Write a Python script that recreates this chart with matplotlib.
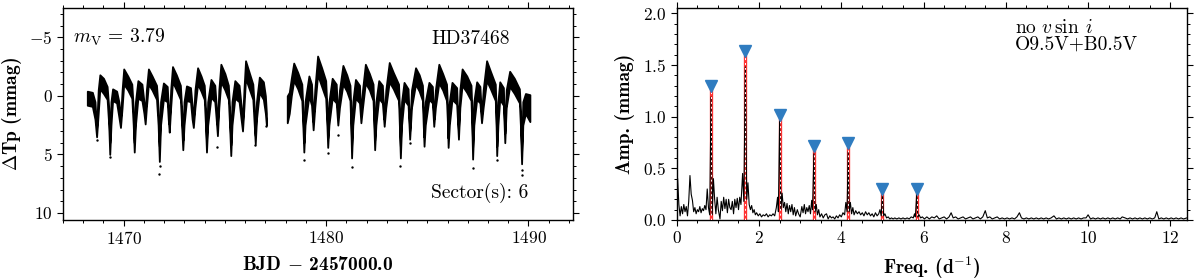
import numpy as np
import matplotlib
matplotlib.use("Agg")
import matplotlib.pyplot as plt
from matplotlib.ticker import MultipleLocator, FormatStrFormatter

plt.rcParams['font.family'] = 'cmr10'
plt.rcParams['mathtext.fontset'] = 'cm'
plt.rcParams['axes.formatter.use_mathtext'] = True
plt.rcParams['axes.unicode_minus'] = True

# light curve: (BJD-2457000, upper edge, lower edge) of the dense band
seg1 = [
    (1468.20, -0.4, 0.8), (1468.45, -0.3, 0.9), (1468.58, 0.5, 2.0), (1468.66, 2.8, 3.5),
    (1468.74, -0.5, 1.5), (1468.82, -1.8, -0.6), (1469.00, -1.5, -0.2), (1469.18, -0.8, 0.3),
    (1469.26, 1.0, 2.5), (1469.31, 4.0, 5.0), (1469.37, 0.5, 2.5), (1469.45, -0.6, 0.4),
    (1469.65, -0.4, 0.6), (1469.76, 0.5, 1.8), (1469.84, 2.0, 2.7), (1469.92, -0.5, 1.0),
    (1470.00, -2.3, -1.0), (1470.20, -1.7, -0.5), (1470.40, -1.0, 0.2), (1470.47, 1.0, 2.5),
    (1470.52, 4.0, 4.8), (1470.58, 0.5, 2.5), (1470.70, -1.3, 0.2), (1470.90, -1.0, 0.4),
    (1471.00, 0.5, 1.5), (1471.06, 1.8, 2.4), (1471.12, -0.5, 1.0), (1471.22, -2.3, -1.0),
    (1471.40, -1.7, -0.5), (1471.62, -0.9, 0.3), (1471.70, 1.0, 2.5), (1471.76, 4.3, 5.6),
    (1471.82, 0.5, 2.5), (1471.96, -1.1, 0.3), (1472.15, -0.8, 0.5), (1472.20, 0.8, 2.0),
    (1472.25, 2.4, 3.1), (1472.32, -0.5, 1.0), (1472.41, -2.5, -1.2), (1472.60, -1.8, -0.5),
    (1472.80, -0.9, 0.3), (1472.86, 1.0, 2.5), (1472.92, 3.8, 4.6), (1472.98, 0.5, 2.5),
    (1473.10, -0.85, 0.4), (1473.30, -0.7, 0.5), (1473.38, 0.8, 2.0), (1473.44, 2.2, 2.7),
    (1473.52, -0.5, 1.0), (1473.65, -2.4, -1.0), (1473.82, -1.7, -0.4), (1473.98, -0.9, 0.3),
    (1474.04, 1.0, 2.5), (1474.09, 4.0, 4.8), (1474.15, 0.5, 2.5), (1474.31, -1.4, 0.1),
    (1474.50, -0.9, 0.5), (1474.57, 0.8, 2.0), (1474.63, 2.6, 3.4), (1474.70, -0.5, 1.0),
    (1474.80, -2.7, -1.2), (1475.00, -1.9, -0.5), (1475.17, -0.9, 0.3), (1475.23, 1.0, 2.5),
    (1475.29, 4.2, 5.1), (1475.35, 0.5, 2.5), (1475.49, -1.3, 0.2), (1475.70, -0.9, 0.5),
    (1475.80, 0.8, 2.0), (1475.87, 2.3, 3.0), (1475.94, -0.5, 1.0), (1476.02, -3.0, -1.5),
    (1476.20, -2.0, -0.6), (1476.38, -1.0, 0.3), (1476.45, 1.0, 2.5), (1476.50, 3.4, 4.1),
    (1476.56, 0.5, 2.0), (1476.70, -1.6, -0.3), (1476.90, -1.2, 0.3), (1477.00, 0.0, 1.5),
    (1477.05, 1.5, 2.5),
]
seg2 = [
    (1478.08, 0.0, 2.3), (1478.18, -0.3, 1.5), (1478.28, -1.5, 0.0), (1478.40, -2.8, -1.3),
    (1478.60, -2.0, -0.6), (1478.80, -1.0, 0.4), (1478.85, 1.0, 2.5), (1478.90, 4.0, 4.8),
    (1478.96, 0.5, 2.5), (1479.15, -1.7, 0.0), (1479.28, -1.0, 0.8), (1479.36, 2.2, 2.9),
    (1479.44, -0.5, 1.0), (1479.58, -3.4, -1.8), (1479.78, -2.4, -0.8), (1479.98, -1.3, 0.2),
    (1480.04, 1.0, 2.5), (1480.08, 3.6, 4.4), (1480.14, 0.5, 2.5), (1480.30, -1.5, 0.2),
    (1480.50, -1.0, 0.6), (1480.58, 1.8, 2.5), (1480.66, -0.5, 1.0), (1480.83, -2.6, -1.0),
    (1481.02, -1.8, -0.4), (1481.18, -0.9, 0.4), (1481.22, 1.0, 2.5), (1481.26, 4.3, 5.3),
    (1481.32, 0.5, 2.5), (1481.45, -1.4, 0.2), (1481.65, -0.9, 0.6), (1481.72, 1.6, 2.3),
    (1481.80, -0.5, 1.0), (1481.94, -2.7, -1.1), (1482.14, -1.9, -0.5), (1482.32, -1.0, 0.4),
    (1482.36, 1.0, 2.5), (1482.40, 3.8, 4.6), (1482.46, 0.5, 2.5), (1482.60, -1.3, 0.2),
    (1482.78, -0.9, 0.6), (1482.87, 2.0, 2.6), (1482.95, -0.5, 1.0), (1483.12, -2.85, -1.2),
    (1483.32, -2.0, -0.6), (1483.58, -1.0, 0.4), (1483.62, 1.0, 2.5), (1483.67, 4.3, 5.3),
    (1483.73, 0.5, 2.5), (1483.85, -1.15, 0.3), (1484.05, -0.6, 0.8), (1484.13, 3.0, 3.7),
    (1484.22, -0.5, 1.0), (1484.42, -2.4, -1.0), (1484.60, -1.8, -0.4), (1484.76, -0.9, 0.4),
    (1484.80, 1.0, 2.5), (1484.84, 3.5, 4.3), (1484.90, 0.5, 2.5), (1485.08, -1.15, 0.3),
    (1485.25, -0.8, 0.6), (1485.32, 2.0, 2.6), (1485.40, -0.5, 1.0), (1485.57, -2.7, -1.1),
    (1485.76, -1.9, -0.5), (1485.95, -1.0, 0.4), (1486.00, 1.0, 2.5), (1486.03, 3.6, 4.4),
    (1486.09, 0.5, 2.5), (1486.22, -1.15, 0.3), (1486.45, -0.7, 0.7), (1486.54, 3.0, 3.7),
    (1486.61, -0.5, 1.0), (1486.72, -2.3, -0.9), (1486.95, -1.7, -0.3), (1487.16, -0.9, 0.4),
    (1487.20, 1.0, 2.5), (1487.24, 4.4, 5.4), (1487.30, 0.5, 2.5), (1487.44, -1.2, 0.3),
    (1487.60, -0.8, 0.6), (1487.68, 1.7, 2.3), (1487.76, -0.5, 1.0), (1487.93, -3.0, -1.3),
    (1488.12, -2.1, -0.6), (1488.36, -1.0, 0.4), (1488.40, 1.0, 2.5), (1488.43, 4.3, 5.1),
    (1488.49, 0.5, 2.5), (1488.58, -1.2, 0.3), (1488.76, -0.7, 0.8), (1488.83, 3.2, 4.0),
    (1488.90, -0.5, 1.0), (1489.07, -2.1, -0.8), (1489.30, -1.5, -0.2), (1489.55, -0.6, 0.6),
    (1489.60, 1.0, 2.5), (1489.66, 4.8, 5.8), (1489.72, 0.5, 2.5), (1489.85, -0.2, 1.5),
    (1490.07, -0.1, 2.2),
]
# stray points below the band
out_t = [1468.68, 1469.31, 1471.76, 1471.77, 1474.62, 1476.50, 1477.05, 1478.90, 1480.08,
         1480.60, 1481.26, 1483.67, 1484.13, 1487.24, 1488.43, 1489.66, 1489.67]
out_m = [3.8, 5.2, 6.7, 6.0, 4.4, 4.2, 2.6, 5.5, 4.9, 3.3, 6.1, 6.0, 4.0, 6.2, 5.5, 6.8, 6.3]

# amplitude spectrum
freq = [0.00, 0.02, 0.05, 0.08, 0.11, 0.14, 0.17, 0.20, 0.23, 0.26, 0.29, 0.32, 0.35, 0.38,
        0.41, 0.44, 0.47, 0.50, 0.53, 0.56, 0.59, 0.62, 0.65, 0.68, 0.71, 0.74, 0.77, 0.80,
        0.833, 0.86, 0.89, 0.92, 0.95, 0.98, 1.01, 1.05, 1.08, 1.11, 1.14, 1.17, 1.20, 1.23,
        1.26, 1.29, 1.32, 1.35, 1.38, 1.41, 1.44, 1.47, 1.50, 1.53, 1.56, 1.60, 1.63, 1.667,
        1.70, 1.73, 1.76, 1.79, 1.82, 1.85, 1.88, 1.91, 1.94, 1.98, 2.02, 2.06, 2.10, 2.14,
        2.18, 2.22, 2.26, 2.30, 2.34, 2.38, 2.42, 2.45, 2.47, 2.50, 2.53, 2.56, 2.59, 2.62,
        2.65, 2.68, 2.71, 2.74, 2.77, 2.80, 2.83, 2.86, 2.89, 2.93, 2.96, 3.00, 3.04, 3.07,
        3.10, 3.13, 3.16, 3.19, 3.22, 3.25, 3.28, 3.30, 3.333, 3.36, 3.39, 3.42, 3.45, 3.48,
        3.52, 3.56, 3.60, 3.64, 3.68, 3.72, 3.76, 3.80, 3.84, 3.88, 3.92, 3.96, 4.00, 4.04,
        4.08, 4.11, 4.14, 4.167, 4.19, 4.22, 4.25, 4.28, 4.31, 4.35, 4.39, 4.43, 4.47, 4.51,
        4.55, 4.59, 4.63, 4.67, 4.71, 4.75, 4.79, 4.83, 4.87, 4.91, 4.94, 4.97, 5.00, 5.03,
        5.06, 5.10, 5.14, 5.18, 5.22, 5.26, 5.30, 5.35, 5.40, 5.45, 5.50, 5.55, 5.60, 5.65,
        5.70, 5.75, 5.78, 5.80, 5.833, 5.86, 5.89, 5.93, 5.97, 6.02, 6.08, 6.14, 6.20, 6.26,
        6.32, 6.38, 6.44, 6.50, 6.56, 6.62, 6.67, 6.72, 6.78, 6.84, 6.90, 6.96, 7.02, 7.08,
        7.14, 7.20, 7.26, 7.32, 7.38, 7.44, 7.50, 7.55, 7.61, 7.67, 7.73, 7.79, 7.85, 7.91,
        7.97, 8.03, 8.09, 8.15, 8.21, 8.27, 8.33, 8.38, 8.44, 8.50, 8.56, 8.62, 8.68, 8.74,
        8.80, 8.86, 8.92, 8.98, 9.04, 9.10, 9.17, 9.23, 9.29, 9.35, 9.41, 9.47, 9.53, 9.59,
        9.65, 9.71, 9.77, 9.83, 9.89, 9.95, 10.00, 10.06, 10.12, 10.18, 10.24, 10.30, 10.36,
        10.42, 10.48, 10.54, 10.60, 10.66, 10.72, 10.78, 10.83, 10.90, 10.96, 11.02, 11.08,
        11.14, 11.20, 11.26, 11.32, 11.38, 11.44, 11.50, 11.56, 11.62, 11.67, 11.72, 11.78,
        11.84, 11.90, 11.96, 12.02, 12.08, 12.14, 12.20, 12.26, 12.32, 12.40]
amp = [0.42, 0.40, 0.15, 0.04, 0.13, 0.06, 0.15, 0.08, 0.13, 0.04, 0.18, 0.43, 0.25, 0.19,
       0.08, 0.12, 0.06, 0.10, 0.08, 0.13, 0.07, 0.11, 0.09, 0.14, 0.10, 0.30, 0.12, 0.05,
       1.19, 0.05, 0.40, 0.20, 0.06, 0.22, 0.10, 0.01, 0.18, 0.09, 0.22, 0.11, 0.20, 0.07,
       0.20, 0.12, 0.10, 0.18, 0.06, 0.20, 0.12, 0.21, 0.10, 0.22, 0.15, 0.45, 0.18, 1.48,
       0.20, 0.36, 0.15, 0.10, 0.14, 0.07, 0.10, 0.05, 0.07, 0.04, 0.06, 0.03, 0.05, 0.04,
       0.06, 0.03, 0.05, 0.04, 0.06, 0.04, 0.12, 0.22, 0.08, 0.96, 0.10, 0.26, 0.12, 0.17,
       0.08, 0.16, 0.06, 0.14, 0.08, 0.15, 0.05, 0.12, 0.04, 0.10, 0.06, 0.03, 0.13, 0.07,
       0.15, 0.06, 0.12, 0.08, 0.14, 0.06, 0.19, 0.10, 0.64, 0.08, 0.15, 0.05, 0.10, 0.03,
       0.06, 0.02, 0.05, 0.06, 0.01, 0.04, 0.02, 0.03, 0.01, 0.04, 0.02, 0.05, 0.03, 0.07,
       0.05, 0.17, 0.08, 0.66, 0.08, 0.17, 0.06, 0.12, 0.05, 0.09, 0.06, 0.08, 0.05, 0.07,
       0.04, 0.08, 0.05, 0.07, 0.04, 0.06, 0.03, 0.07, 0.04, 0.06, 0.10, 0.04, 0.25, 0.04,
       0.06, 0.02, 0.03, 0.01, 0.02, 0.01, 0.02, 0.01, 0.02, 0.01, 0.02, 0.01, 0.02, 0.01,
       0.03, 0.02, 0.06, 0.03, 0.25, 0.03, 0.05, 0.02, 0.03, 0.01, 0.03, 0.01, 0.03, 0.02,
       0.04, 0.01, 0.02, 0.03, 0.01, 0.03, 0.07, 0.02, 0.03, 0.01, 0.02, 0.03, 0.01, 0.02,
       0.03, 0.01, 0.02, 0.03, 0.01, 0.03, 0.09, 0.02, 0.03, 0.01, 0.02, 0.03, 0.01, 0.02,
       0.01, 0.02, 0.01, 0.02, 0.01, 0.03, 0.07, 0.02, 0.01, 0.02, 0.01, 0.02, 0.01, 0.02,
       0.01, 0.02, 0.01, 0.02, 0.01, 0.02, 0.04, 0.01, 0.02, 0.01, 0.02, 0.01, 0.02, 0.01,
       0.02, 0.01, 0.02, 0.01, 0.02, 0.02, 0.05, 0.01, 0.02, 0.01, 0.02, 0.01, 0.02,
       0.01, 0.02, 0.01, 0.02, 0.01, 0.02, 0.01, 0.03, 0.02, 0.01, 0.02, 0.01,
       0.02, 0.01, 0.02, 0.01, 0.02, 0.01, 0.02, 0.01, 0.02, 0.08, 0.01, 0.02,
       0.01, 0.02, 0.01, 0.02, 0.01, 0.02, 0.01, 0.02, 0.01, 0.02]

# extracted harmonics
peak_freq = [0.833, 1.667, 2.500, 3.333, 4.167, 5.000, 5.833]
peak_amp = [1.27, 1.60, 0.99, 0.69, 0.71, 0.27, 0.27]

fig = plt.figure(figsize=(12, 2.8), dpi=100)
ax1 = fig.add_axes([0.0525, 0.2143, 0.425, 0.757])
ax2 = fig.add_axes([0.564, 0.2143, 0.425, 0.757])

bold = {'family': 'cmb10', 'size': 14}

# ---- light curve
for seg in (seg1, seg2):
    t, top, bot = np.array(seg).T
    ax1.fill_between(t, top, bot, color='black', lw=1.3, edgecolor='black')
ax1.scatter(out_t, out_m, s=3, c='black', lw=0)

ax1.set_xlim(1467.0, 1492.2)
ax1.set_ylim(10.6, -7.5)
ax1.xaxis.set_major_locator(MultipleLocator(10))
ax1.xaxis.set_minor_locator(MultipleLocator(1))
ax1.yaxis.set_major_locator(MultipleLocator(5))
ax1.yaxis.set_minor_locator(MultipleLocator(1))
ax1.set_xlabel(r'BJD $-$ 2457000.0', fontdict=bold, labelpad=6)
ax1.set_ylabel(r'$\Delta$Tp (mmag)', fontdict=bold, labelpad=4)
ax1.text(0.02, 0.862, r'$m_{\rm V}$ = 3.79', transform=ax1.transAxes, fontsize=14, va='center')
ax1.text(0.722, 0.853, 'HD37468', transform=ax1.transAxes, fontsize=14, va='center')
ax1.text(0.722, 0.127, 'Sector(s): 6', transform=ax1.transAxes, fontsize=14, va='center')

# ---- amplitude spectrum
ax2.vlines(peak_freq, 0, peak_amp, colors='red', lw=2.4, alpha=0.8, zorder=1)
ax2.plot(freq, amp, c='black', lw=0.8, zorder=2)
ax2.vlines(peak_freq, 0, peak_amp, colors='white', lw=0.7, linestyles=(0, (2, 3)), zorder=3)
ax2.plot(peak_freq, np.array(peak_amp) + 0.03, 'v', c='#2f7cc0', ms=9, mec='#2f7cc0', zorder=4)

ax2.set_xlim(0, 12.4)
ax2.set_ylim(0, 2.05)
ax2.xaxis.set_major_locator(MultipleLocator(2))
ax2.xaxis.set_minor_locator(MultipleLocator(0.5))
ax2.yaxis.set_major_locator(MultipleLocator(0.5))
ax2.yaxis.set_minor_locator(MultipleLocator(0.1))
ax2.yaxis.set_major_formatter(FormatStrFormatter(r'$%.1f$'))
ax2.set_xlabel(r'Freq. (d$^{-1}$)', fontdict=bold, labelpad=6)
ax2.set_ylabel('Amp. (mmag)', fontdict=bold, labelpad=6)
ax2.text(0.663, 0.908, r'no $v\,\sin\;i$', transform=ax2.transAxes, fontsize=14, va='center')
ax2.text(0.663, 0.825, 'O9.5V+B0.5V', transform=ax2.transAxes, fontsize=14, va='center')

for ax in (ax1, ax2):
    ax.tick_params(which='both', direction='out', top=True, right=True, labelsize=12.5)
    ax.tick_params(which='major', length=4, width=0.8)
    ax.tick_params(which='minor', length=2.5, width=0.7)
    for s in ax.spines.values():
        s.set_linewidth(1.0)

fig.savefig('out.png', dpi=100)
